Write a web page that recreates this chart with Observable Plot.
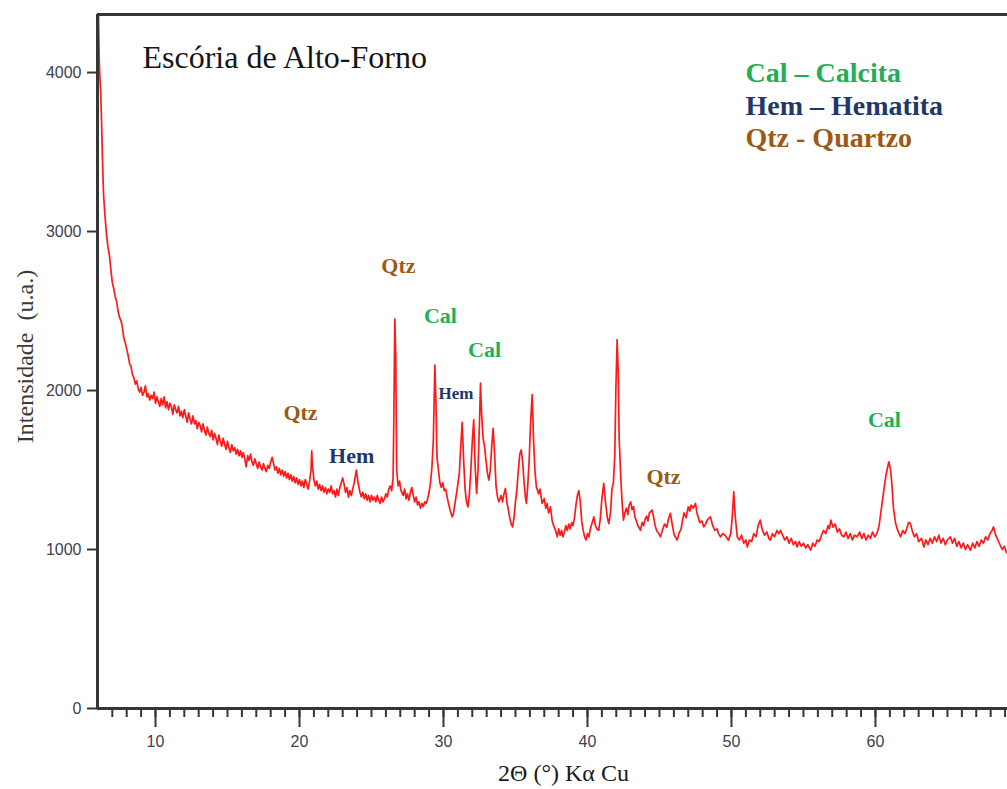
<!DOCTYPE html>
<html>
<head>
<meta charset="utf-8">
<script src="https://cdn.jsdelivr.net/npm/d3@7"></script>
<script src="https://cdn.jsdelivr.net/npm/@observablehq/plot@0.6"></script>
<style>
  html, body { margin: 0; padding: 0; background: #fff; overflow: hidden; }
</style>
</head>
<body>
<div id="chart"></div>
<script>
// Diffractogram: [2θ (°), intensity (u.a.)]
const patternLowAngle = [
  [6.0,4600],[6.05,4300],[6.1,4050],[6.15,3950],[6.2,3870],[6.25,3700],[6.3,3520],[6.35,3350],[6.4,3220],
  [6.5,3090],[6.6,2980],[6.7,2900],[6.8,2850],[6.9,2760],[7.0,2680],[7.1,2640],[7.2,2590],[7.3,2560],
  [7.4,2500],[7.5,2460],[7.6,2440],[7.7,2400],[7.8,2330],[7.9,2300],[8.0,2260],[8.1,2220],[8.2,2170],
  [8.3,2150],[8.4,2100],[8.5,2080],[8.6,2040],[8.7,2060],[8.8,2010],[8.9,1990],[9.0,2020],[9.1,1970],
  [9.2,1990],[9.3,2030],[9.4,1960],[9.5,1980],[9.6,1940],[9.7,1970],[9.8,1950],[9.9,1990],[10.0,1920],
  [10.1,1960],[10.2,1930],[10.3,1900],[10.4,1950],[10.5,1910],[10.6,1960],[10.7,1890],[10.8,1930],
  [10.9,1880],[11.0,1920],[11.1,1900],[11.2,1850],[11.3,1910],[11.4,1880],[11.5,1860],[11.6,1900],
  [11.7,1840],[11.8,1870],[11.9,1830],[12.0,1880],[12.1,1840],[12.2,1800],[12.3,1860],[12.4,1820],
  [12.5,1790],[12.6,1840],[12.7,1790],[12.8,1810],[12.9,1760],[13.0,1800],[13.1,1780],[13.2,1740],
  [13.3,1790],[13.4,1750],[13.5,1720],[13.6,1770],[13.7,1730],[13.8,1710],[13.9,1750],[14.0,1690],
  [14.1,1730],[14.2,1700],[14.3,1660],[14.4,1720],[14.5,1680],[14.6,1650],[14.7,1700],[14.8,1660],
  [14.9,1630],[15.0,1680],[15.1,1640],[15.2,1610],[15.3,1660],[15.4,1620],[15.5,1640],[15.6,1600],
  [15.7,1630],[15.8,1590],[15.9,1620],[16.0,1580],[16.1,1610],[16.2,1570],[16.3,1520],[16.4,1590],
  [16.5,1560],[16.6,1600],[16.7,1550],[16.8,1530],[16.9,1570],[17.0,1540],[17.1,1510],[17.2,1550],
  [17.3,1520],[17.4,1500],[17.5,1540],[17.6,1510],[17.7,1490],[17.8,1530],[17.9,1510],[18.0,1550],
  [18.1,1580],[18.2,1540],[18.3,1500],[18.4,1520],[18.5,1480],[18.6,1510],[18.7,1470],[18.8,1500],
  [18.9,1460],[19.0,1490],[19.1,1450],[19.2,1480],[19.3,1440],[19.4,1470],[19.5,1430],[19.6,1460],
  [19.7,1420],[19.8,1450],[19.9,1410],[20.0,1440]
];
const patternPeaks = [
  [20.1,1400],[20.2,1430],[20.3,1390],[20.4,1440],[20.5,1410],[20.6,1380],[20.7,1430],[20.8,1500],
  [20.85,1620],[20.9,1530],[21.0,1440],[21.1,1400],[21.2,1430],[21.3,1380],[21.4,1410],[21.5,1370],
  [21.6,1400],[21.7,1360],[21.8,1390],[21.9,1350],[22.0,1380],[22.1,1360],[22.2,1400],[22.3,1350],
  [22.4,1370],[22.5,1330],[22.6,1380],[22.7,1340],[22.8,1390],[22.9,1420],[23.0,1450],[23.1,1410],
  [23.2,1360],[23.3,1390],[23.4,1330],[23.5,1370],[23.6,1340],[23.7,1380],[23.8,1420],[23.95,1500],
  [24.05,1430],[24.2,1360],[24.3,1330],[24.4,1360],[24.5,1320],[24.6,1350],[24.7,1310],[24.8,1340],
  [24.9,1300],[25.0,1340],[25.1,1310],[25.2,1330],[25.3,1300],[25.4,1340],[25.5,1310],[25.6,1290],
  [25.7,1330],[25.8,1300],[25.9,1320],[26.0,1350],[26.1,1330],[26.2,1380],[26.3,1400],[26.4,1370],
  [26.5,1450],[26.55,1800],[26.62,2450],[26.68,2250],[26.75,1500],[26.85,1400],[26.95,1430],[27.05,1370],
  [27.2,1340],[27.3,1380],[27.4,1320],[27.5,1350],[27.6,1310],[27.7,1360],[27.8,1390],[27.9,1340],
  [28.0,1300],[28.1,1330],[28.2,1280],[28.3,1300],[28.4,1260],[28.5,1290],[28.6,1270],[28.7,1300],
  [28.8,1290],[28.9,1320],[29.0,1360],[29.1,1420],[29.2,1520],[29.3,1700],[29.4,2160],[29.47,1950],
  [29.55,1580],[29.65,1500],[29.75,1420],[29.85,1390],[29.95,1420],[30.05,1370],[30.15,1380],[30.3,1310],
  [30.45,1250],[30.6,1205],[30.7,1230],[30.8,1290],[30.95,1380],[31.1,1480],[31.2,1650],[31.3,1800],
  [31.4,1560],[31.5,1380],[31.6,1300],[31.7,1268],[31.8,1350],[31.9,1500],[32.0,1680],[32.1,1815],
  [32.2,1520],[32.3,1353],[32.4,1500],[32.5,1800],[32.57,2046],[32.65,1850],[32.75,1700],[32.85,1650],
  [32.95,1560],[33.05,1480],[33.15,1437],[33.25,1500],[33.35,1650],[33.45,1762],[33.55,1600],[33.65,1400],
  [33.75,1331],[33.85,1300],[34.0,1340],[34.1,1300],[34.2,1350],[34.3,1384],[34.4,1300],[34.5,1250],
  [34.6,1200],[34.7,1160],[34.8,1142],[34.9,1200],[35.0,1300],[35.1,1380],[35.2,1500],[35.3,1600],
  [35.4,1626],[35.5,1550],[35.6,1420],[35.7,1320],[35.76,1290],[35.85,1400],[35.95,1560],[36.05,1800],
  [36.16,1975],[36.25,1700],[36.35,1500],[36.45,1394],[36.6,1350],[36.7,1380],[36.85,1290],[37.0,1320],
  [37.1,1260],[37.2,1290],[37.3,1230],[37.43,1268],[37.55,1180],[37.65,1150],[37.78,1121],[37.9,1080],
  [38.0,1130],[38.1,1090],[38.2,1120],[38.3,1080],[38.4,1110],[38.5,1150],[38.6,1120],[38.7,1160],
  [38.8,1130],[38.9,1170],[39.0,1150],[39.1,1200],[39.2,1280],[39.3,1340],[39.4,1370],[39.5,1300],
  [39.6,1180],[39.7,1120],[39.8,1080],[39.9,1060],[40.0,1100],[40.1,1080],[40.2,1130],[40.3,1160],
  [40.44,1205],[40.55,1150],[40.65,1130],[40.78,1121],[40.9,1200],[41.0,1320],[41.13,1416],[41.25,1300],
  [41.38,1200],[41.48,1163],[41.6,1230],[41.7,1380],[41.8,1420],[41.9,1600],[41.97,2000],[42.06,2320],
  [42.14,2100],[42.2,1700],[42.3,1479],[42.4,1300],[42.5,1185],[42.6,1230],[42.7,1260],[42.8,1220],
  [42.9,1280],[43.0,1300]
];
const patternHighAngle = [
  [43.1,1250],[43.2,1270],[43.3,1200],[43.4,1180],[43.5,1150],[43.68,1121],[43.8,1170],[43.9,1150],
  [44.0,1190],[44.1,1210],[44.2,1180],[44.3,1230],[44.49,1248],[44.6,1200],[44.7,1150],[44.8,1120],
  [44.95,1100],[45.07,1080],[45.2,1120],[45.35,1160],[45.5,1140],[45.65,1200],[45.76,1227],[45.9,1150],
  [46.0,1100],[46.1,1080],[46.23,1059],[46.35,1100],[46.5,1130],[46.6,1180],[46.7,1230],[46.85,1200],
  [47.0,1269],[47.1,1240],[47.2,1280],[47.35,1260],[47.5,1290],[47.6,1230],[47.7,1200],[47.8,1170],
  [47.95,1180],[48.08,1142],[48.2,1160],[48.35,1190],[48.54,1205],[48.7,1150],[48.85,1120],[49.0,1130],
  [49.1,1100],[49.24,1080],[49.4,1100],[49.55,1090],[49.7,1070],[49.8,1059],[49.95,1100],[50.05,1200],
  [50.16,1363],[50.25,1220],[50.4,1080],[50.55,1060],[50.7,1090],[50.85,1040],[51.0,1060],[51.1,1016],
  [51.25,1060],[51.4,1050],[51.55,1100],[51.7,1080],[51.85,1150],[52.0,1185],[52.15,1120],[52.3,1090],
  [52.45,1110],[52.6,1070],[52.7,1059],[52.85,1100],[53.0,1080],[53.15,1120],[53.3,1100],[53.4,1121],
  [53.55,1090],[53.7,1060],[53.85,1080],[54.0,1040],[54.15,1070],[54.3,1030],[54.45,1050],[54.56,1016],
  [54.7,1050],[54.85,1020],[55.0,1040],[55.15,1010],[55.3,1030],[55.5,996],[55.65,1040],[55.8,1020],
  [55.95,1060],[56.1,1050],[56.25,1090],[56.4,1120],[56.55,1100],[56.7,1150],[56.8,1130],[56.9,1185],
  [57.05,1140],[57.2,1160],[57.35,1110],[57.5,1130],[57.65,1090],[57.8,1080],[57.95,1110],[58.1,1070],
  [58.25,1100],[58.4,1060],[58.55,1090],[58.73,1080],[58.9,1110],[59.05,1070],[59.2,1100],[59.35,1060],
  [59.5,1090],[59.65,1070],[59.8,1110],[59.95,1080],[60.1,1100],[60.25,1150],[60.4,1250],[60.55,1350],
  [60.7,1450],[60.8,1500],[60.93,1552],[61.05,1500],[61.15,1400],[61.25,1260],[61.4,1163],[61.55,1120],
  [61.74,1080],[61.9,1120],[62.05,1100],[62.2,1140],[62.3,1170],[62.43,1163],[62.55,1120],[62.7,1080],
  [62.85,1100],[63.0,1050],[63.2,1070],[63.36,1016],[63.5,1060],[63.65,1030],[63.8,1070],[63.95,1040],
  [64.1,1080],[64.25,1050],[64.4,1090],[64.55,1040],[64.7,1070],[64.85,1030],[65.0,1060],[65.2,1080],
  [65.35,1040],[65.5,1070],[65.65,1020],[65.8,1050],[65.95,1010],[66.1,1040],[66.25,1000],[66.4,1030],
  [66.6,996],[66.75,1040],[66.9,1010],[67.05,1050],[67.2,1020],[67.35,1060],[67.5,1040],[67.65,1080],
  [67.8,1060],[67.95,1100],[68.1,1120],[68.2,1142],[68.35,1090],[68.5,1060],[68.65,1030],[68.8,1000],
  [68.95,1020],[69.1,980],[69.25,977]
];

const yTicks = [0, 1000, 2000, 3000, 4000];
const xTicks = [10, 20, 30, 40, 50, 60];
const xMinorTicks = d3.range(7, 70);

const phases = ["Cal", "Hem", "Qtz"];
const phaseNames = ["Cal – Calcita", "Hem – Hematita", "Qtz - Quartzo"];

// peak annotations (label anchor in data coordinates)
const peakLabels = [
  {phase: "Qtz", x: 26.87, y: 2785},
  {phase: "Cal", x: 29.79, y: 2470},
  {phase: "Cal", x: 32.85, y: 2256},
  {phase: "Qtz", x: 20.07, y: 1860},
  {phase: "Hem", x: 23.62, y: 1588},
  {phase: "Qtz", x: 45.28, y: 1456},
  {phase: "Cal", x: 60.62, y: 1815}
];
const smallPeakLabels = [
  {phase: "Hem", x: 30.87, y: 1979}
];

const title = "Escória de Alto-Forno";
const xLabel = "2Θ (°) Kα Cu";
const yLabel = "Intensidade\u00a0 (u.a.)";

// ---- styling ----
const phaseColor = {Cal: "#1faf55", Hem: "#1f3868", Qtz: "#9b5a17"};
const serif = "'Liberation Serif', 'Times New Roman', serif";
const axisColor = "#363636";

const pattern = [...patternLowAngle, ...patternPeaks, ...patternHighAngle]
  .map(([t, i]) => ({t, i}));

const xDomain = [5.972, 69.17];
const yDomain = [0, 4365];

const legendMarks = phaseNames.map((name, k) =>
  Plot.text([name], {
    frameAnchor: "top-left", textAnchor: "start", lineAnchor: "middle",
    dx: 648, dy: 59 + k * 32.5,
    fontSize: 28, fontWeight: "bold", fontFamily: serif,
    fill: phaseColor[phases[k]]
  })
);

const chart = Plot.plot({
  width: 1007,
  height: 789,
  marginLeft: 97,
  marginRight: 0,
  marginTop: 14,
  marginBottom: 81,
  x: {domain: xDomain},
  y: {domain: yDomain},
  style: {fontFamily: "'Liberation Sans', Arial, sans-serif", background: "#fff", overflow: "visible"},
  marks: [
    Plot.line(pattern, {x: "t", y: "i", stroke: "#ff0000", strokeWidth: 1.7, strokeOpacity: 0.9, clip: true}),
    Plot.axisX({ticks: xMinorTicks, tickSize: 9, tickFormat: () => "", stroke: axisColor, strokeWidth: 2, label: null}),
    Plot.axisX({ticks: xTicks, tickSize: 19, tickPadding: 8, tickFormat: d3.format("d"), fontSize: 16,
      stroke: axisColor, fill: "#404050", strokeWidth: 2, label: null}),
    Plot.axisY({ticks: yTicks, tickSize: 10, tickPadding: 6, tickFormat: d3.format("d"), fontSize: 16,
      stroke: axisColor, fill: "#404050", strokeWidth: 2, label: null}),
    Plot.ruleY([yDomain[0]], {stroke: axisColor, strokeWidth: 3}),
    Plot.ruleY([yDomain[1]], {stroke: axisColor, strokeWidth: 3}),
    Plot.ruleX([xDomain[0]], {stroke: axisColor, strokeWidth: 3}),
    Plot.text([title], {frameAnchor: "top-left", textAnchor: "start", lineAnchor: "middle", dx: 45, dy: 43,
      fontSize: 32, fontFamily: serif, fill: "#151515"}),
    ...legendMarks,
    Plot.text(peakLabels, {x: "x", y: "y", text: "phase", fill: d => phaseColor[d.phase],
      fontSize: 22, fontWeight: "bold", fontFamily: serif}),
    Plot.text(smallPeakLabels, {x: "x", y: "y", text: "phase", fill: d => phaseColor[d.phase],
      fontSize: 17, fontWeight: "bold", fontFamily: serif}),
    Plot.text([yLabel], {frameAnchor: "left", textAnchor: "middle", lineAnchor: "middle", rotate: -90, dx: -72, dy: -5,
      fontSize: 24, fontFamily: serif, fill: "#3a3a3a"}),
    Plot.text([xLabel], {frameAnchor: "bottom", textAnchor: "middle", lineAnchor: "middle", dx: 11, dy: 65,
      fontSize: 24, fontFamily: serif, fill: "#1a1a1a"})
  ]
});
document.getElementById("chart").appendChild(chart);
</script>
</body>
</html>
